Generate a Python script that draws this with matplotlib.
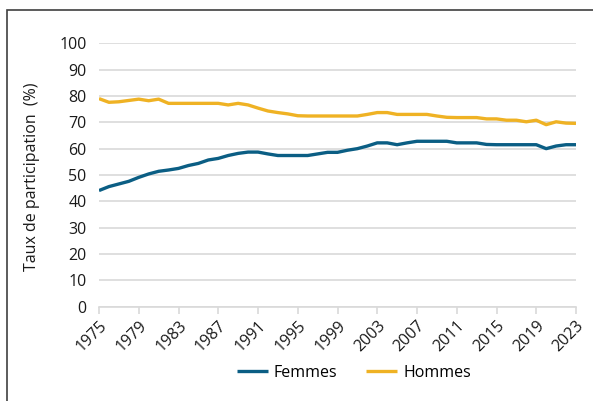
# Taux de participation par sexe, 1975-2023
import numpy as np
import matplotlib
matplotlib.use('Agg')
import matplotlib.pyplot as plt
from matplotlib.patches import Rectangle

plt.rcParams['font.family'] = ['Open Sans', 'DejaVu Sans']

years = np.arange(1975, 2024)
femmes = [44.1, 45.6, 46.6, 47.6, 49.1, 50.4, 51.4, 51.9, 52.5, 53.6,
          54.4, 55.7, 56.3, 57.4, 58.2, 58.7, 58.7, 58.0, 57.4, 57.4,
          57.4, 57.4, 58.0, 58.6, 58.6, 59.4, 60.0, 61.0, 62.2, 62.2,
          61.5, 62.2, 62.8, 62.8, 62.8, 62.8, 62.2, 62.2, 62.2, 61.6,
          61.5, 61.5, 61.5, 61.5, 61.5, 60.0, 61.0, 61.5, 61.5]
hommes = [79.0, 77.6, 77.8, 78.3, 78.8, 78.2, 78.8, 77.2, 77.2, 77.2,
          77.2, 77.2, 77.2, 76.6, 77.2, 76.6, 75.4, 74.3, 73.7, 73.2,
          72.5, 72.4, 72.4, 72.4, 72.4, 72.4, 72.4, 73.0, 73.7, 73.7,
          73.0, 73.0, 73.0, 73.0, 72.4, 71.9, 71.8, 71.8, 71.8, 71.3,
          71.3, 70.8, 70.8, 70.2, 70.8, 69.1, 70.2, 69.7, 69.6]
xticks = list(range(1975, 2024, 4))

blue = '#0b5e84'
yellow = '#efb224'
grid_col = '#d9d9d9'

fig = plt.figure(figsize=(5.93, 4.01), dpi=100)
ax = fig.add_axes([99 / 593, 1 - 306.7 / 401, 477 / 593, (306.7 - 43.3) / 401])

ax.plot(years, femmes, color=blue, lw=2.4, label='Femmes', solid_capstyle='butt')
ax.plot(years, hommes, color=yellow, lw=2.4, label='Hommes', solid_capstyle='butt')

ax.set_xlim(1975, 2023)
ax.set_ylim(0, 100)
ax.set_yticks(range(0, 101, 10))
ax.set_xticks(xticks)
ax.set_xticklabels([str(y) for y in xticks], rotation=45, ha='right',
                   rotation_mode='anchor')

ax.grid(axis='y', color=grid_col, lw=1.2)
ax.set_axisbelow(True)
for s in ['top', 'right', 'left']:
    ax.spines[s].set_visible(False)
ax.spines['bottom'].set_color(grid_col)
ax.spines['bottom'].set_linewidth(1.2)
ax.tick_params(axis='y', length=0, pad=9, labelsize=11.5, labelcolor='#1a1a1a')
ax.tick_params(axis='x', length=5, width=1.2, color=grid_col, pad=3,
               labelsize=11.5, labelcolor='#1a1a1a')

fig.text(32 / 593, 1 - 177 / 401, 'Taux de participation  (%)', rotation=90,
         ha='center', va='center', fontsize=11.5, color='#1a1a1a')

fig.legend(loc='center', bbox_to_anchor=(354 / 593, 1 - 373 / 401), ncol=2,
           frameon=False, fontsize=11.5, handlelength=1.9, columnspacing=1.8,
           handletextpad=0.4)

# outer frame, cut off at right and bottom like the original
fig.patches.append(Rectangle((7 / 593, -0.1), 1.2, 1 - 10 / 401 + 0.1,
                             transform=fig.transFigure, fill=False,
                             edgecolor='#404040', lw=1.2))

fig.savefig('out.png', dpi=100)
